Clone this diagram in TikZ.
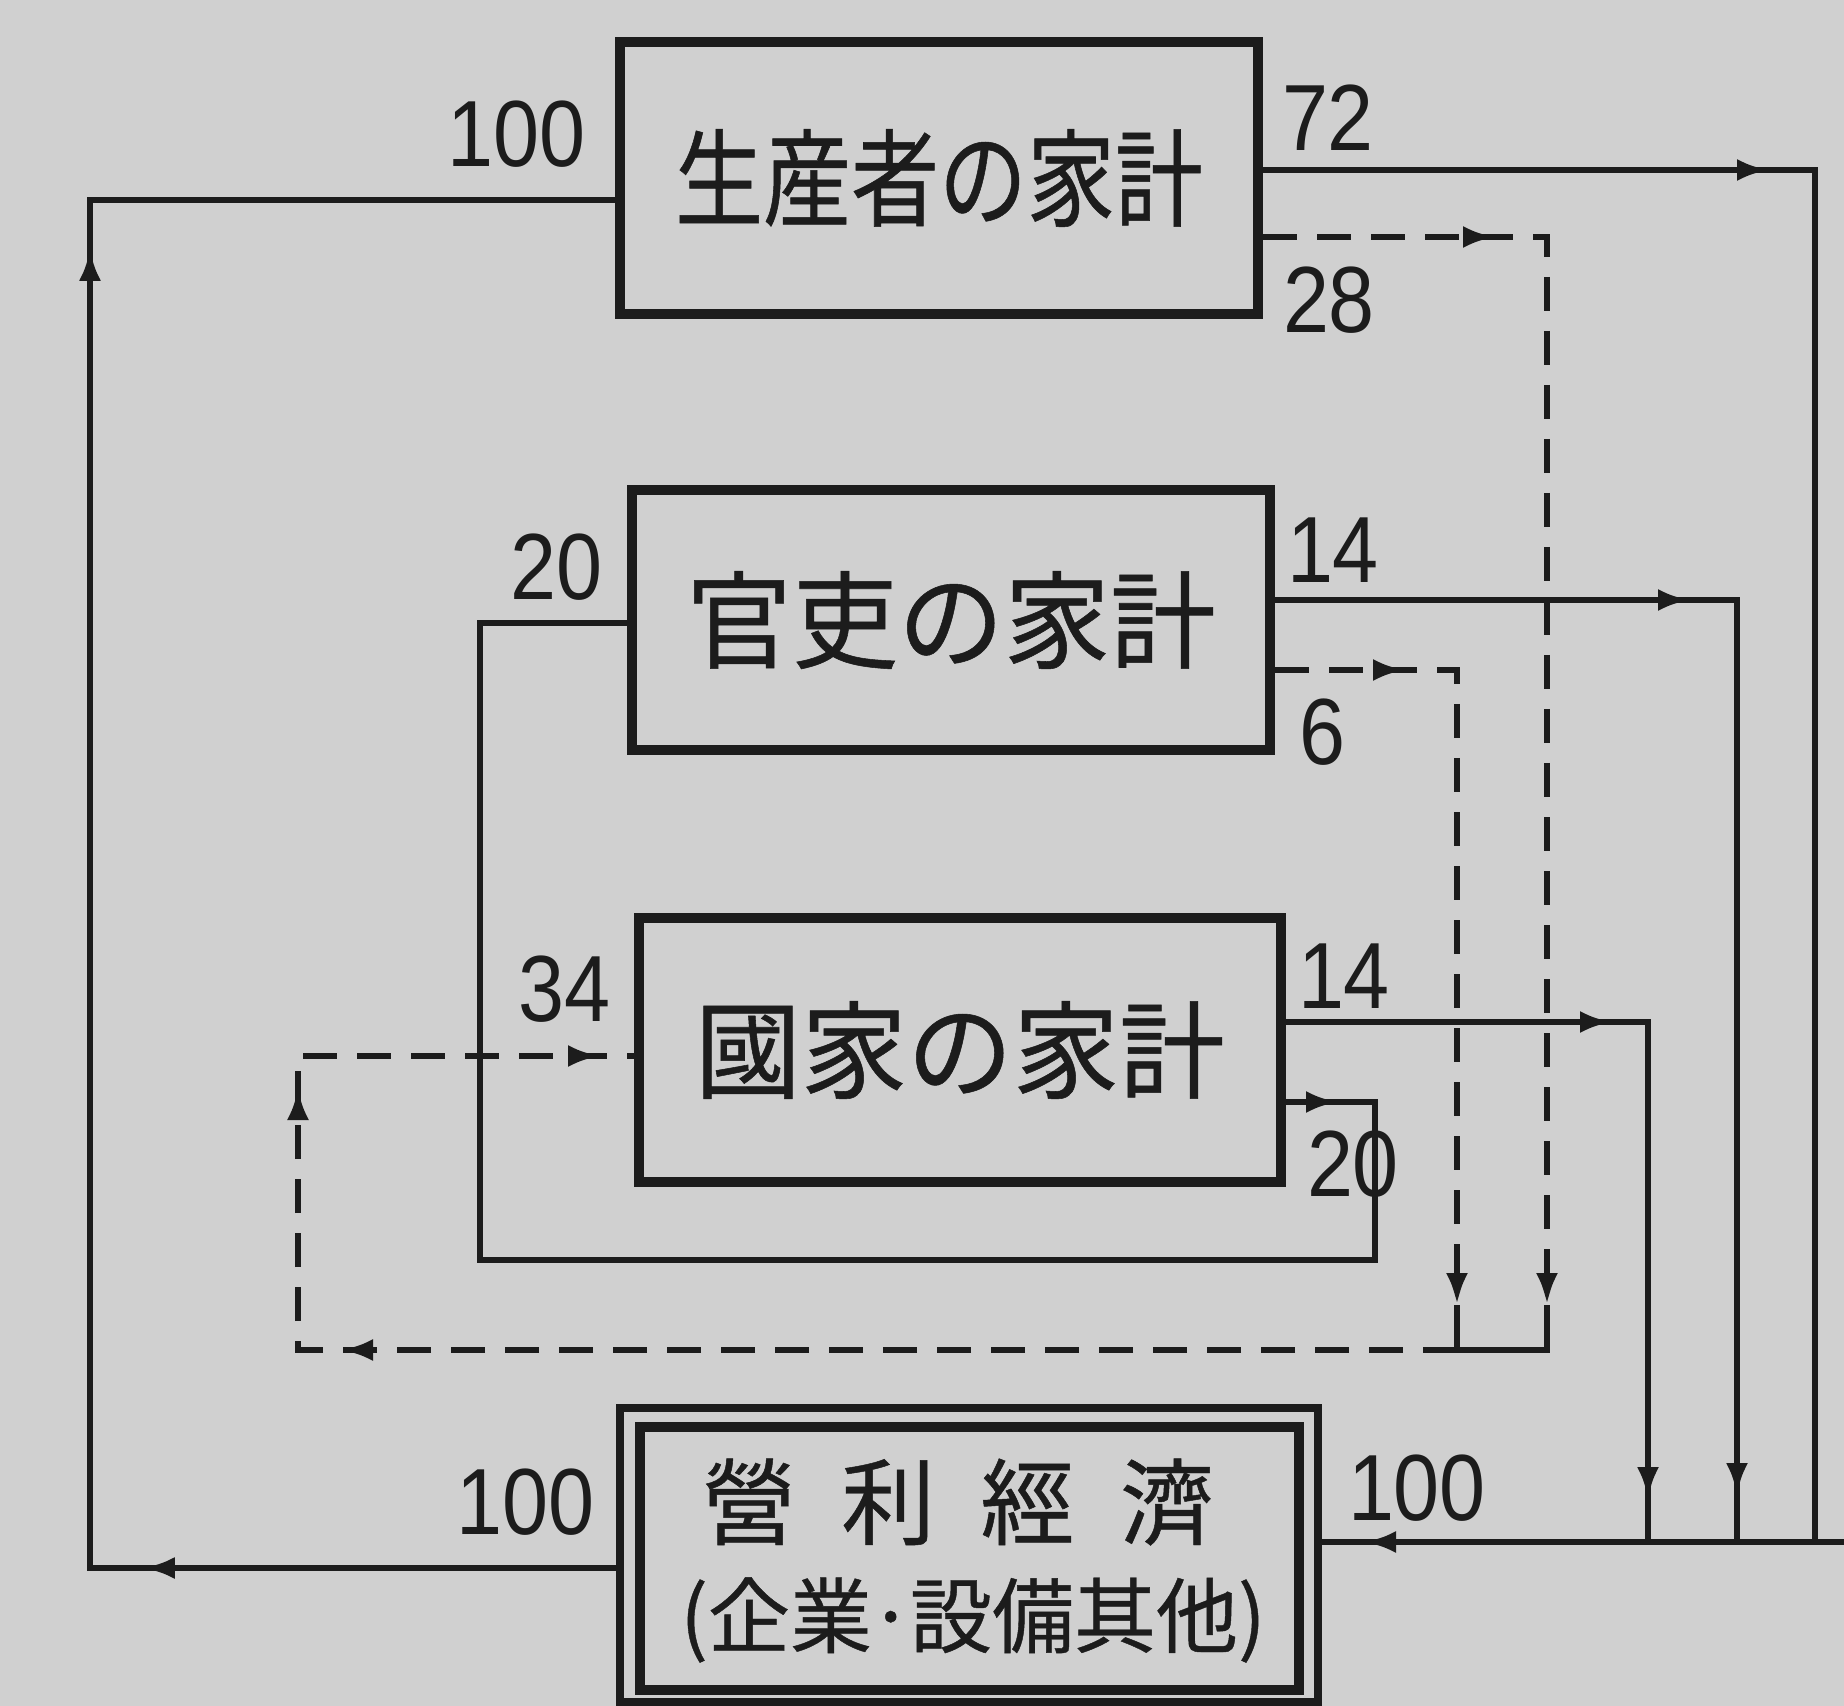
\documentclass[tikz,border=0pt]{standalone}
\usepackage{fontspec}
\newfontfamily\cjk[FakeBold=0.5]{Noto Sans CJK JP}
\newfontfamily\cjkc[FakeStretch=0.83,FakeBold=0.5]{Noto Sans CJK JP}
\newfontfamily\numf[FakeStretch=0.88]{Liberation Sans}
\usetikzlibrary{arrows.meta,decorations.markings}
\definecolor{paper}{RGB}{208,208,208}
\definecolor{ink}{RGB}{28,28,28}
\begin{document}
\begin{tikzpicture}[x=0.5pt,y=-0.5pt,color=ink,
  box/.style={draw=ink,line width=5pt,rectangle,inner sep=0pt},
  flow/.style={draw=ink,line width=3.4pt},
  dflow/.style={flow,dash pattern=on 17pt off 10pt},
  tipend/.style={-{Latex[length=16pt,width=11pt]}},
  arr/.style={postaction={decorate,decoration={markings,mark=at position #1 with {\arrow{Latex[length=16pt,width=11pt]}}}}},
  lbl/.style={text=ink,font=\numf\fontsize{47}{47}\selectfont,inner sep=0pt},
  boxtext/.style={font=\cjk\fontsize{53}{53}\selectfont}]
\fill[paper] (0,0) rectangle (1844,1706);
\useasboundingbox (0,0) rectangle (1844,1706);

% boxes
\node[box,minimum width=319pt,minimum height=136pt,font=\cjkc\fontsize{53}{53}\selectfont] (b1) at (939,178) {生産者の家計};
\node[box,boxtext,minimum width=319pt,minimum height=130pt] (b2) at (951,620) {官吏の家計};
\node[box,boxtext,minimum width=321pt,minimum height=132pt] (b3) at (960,1050) {國家の家計};
\node[box,line width=4.2pt,minimum width=349pt,minimum height=147pt] (b4) at (969,1555) {};
\node[box,line width=5.2pt,minimum width=329.5pt,minimum height=131.5pt] (b4i) at (969.5,1558.5) {};
\node[font=\cjk\fontsize{47}{47}\selectfont,inner sep=0pt] (t4a) at (958,1502) {\makebox[256pt]{營\hfill 利\hfill 經\hfill 濟}};
\node[font=\cjk\fontsize{41}{41}\selectfont,inner sep=0pt] (t4b) at (973,1620) {(企業\kern-2pt·\kern-2pt設備其他)};

% coordinates
\coordinate (aL) at (90,1568);
\coordinate (aT) at (90,200);
\coordinate (r72) at (1815,170);
\coordinate (rB) at (1815,1542);
\coordinate (bR) at (1844,1542);
\coordinate (r14a) at (1737,600);
\coordinate (r14ab) at (1737,1542);
\coordinate (r14b) at (1648,1022);
\coordinate (r14bb) at (1648,1542);
\coordinate (r28) at (1547,237);
\coordinate (r28b) at (1547,1305);
\coordinate (r6) at (1457,670);
\coordinate (r6b) at (1457,1305);
\coordinate (u1) at (1547,1350);
\coordinate (u2) at (1457,1350);
\coordinate (dL) at (298,1350);
\coordinate (dT) at (298,1056);
\coordinate (l1) at (1375,1102);
\coordinate (l2) at (1375,1260);
\coordinate (l3) at (480,1260);
\coordinate (l4) at (480,623);

% connectors
\draw[flow,arr=236.5pt,arr=922.5pt] (b4.west |- aL) -- (aL) -- (aT) -- (b1.west |- aT);
\draw[flow,arr=253pt] (b1.east |- r72) -- (r72) -- (rB);
\draw[flow,arr=240pt] (bR) -- (b4.east |- bR);
\draw[flow,arr=207.5pt,arr=678.5pt] (b2.east |- r14a) -- (r14a) -- (r14ab);
\draw[flow,arr=163pt,arr=419.5pt] (b3.east |- r14b) -- (r14b) -- (r14bb);
\draw[dflow,tipend,arr=116pt] (b1.east |- r28) -- (r28) -- (r28b);
\draw[dflow,tipend,arr=65pt] (b2.east |- r6) -- (r6) -- (r6b);
\draw[flow] (r28b) -- (u1) -- (u2) -- (r6b);
\draw[dflow,arr=558pt,arr=710.5pt,arr=877.5pt] (u2) -- (dL) -- (dT) -- (b3.west |- dT);
\draw[flow,arr=26pt] (b3.east |- l1) -- (l1) -- (l2) -- (l3) -- (l4) -- (b2.west |- l4);

% labels
\node[lbl] (n100a) at (517,134) {100};
\node[lbl] (n72) at (1328,118) {72};
\node[lbl] (n28) at (1329,300) {28};
\node[lbl] (n20a) at (557,567) {20};
\node[lbl] (n14a) at (1333,550) {14};
\node[lbl] (n6) at (1322,732) {6};
\node[lbl] (n34) at (565,989) {34};
\node[lbl] (n14b) at (1344,976) {14};
\node[lbl] (n20b) at (1353,1164) {20};
\node[lbl] (n100b) at (526,1502) {100};
\node[lbl] (n100c) at (1417,1488) {100};
\end{tikzpicture}
\end{document}
